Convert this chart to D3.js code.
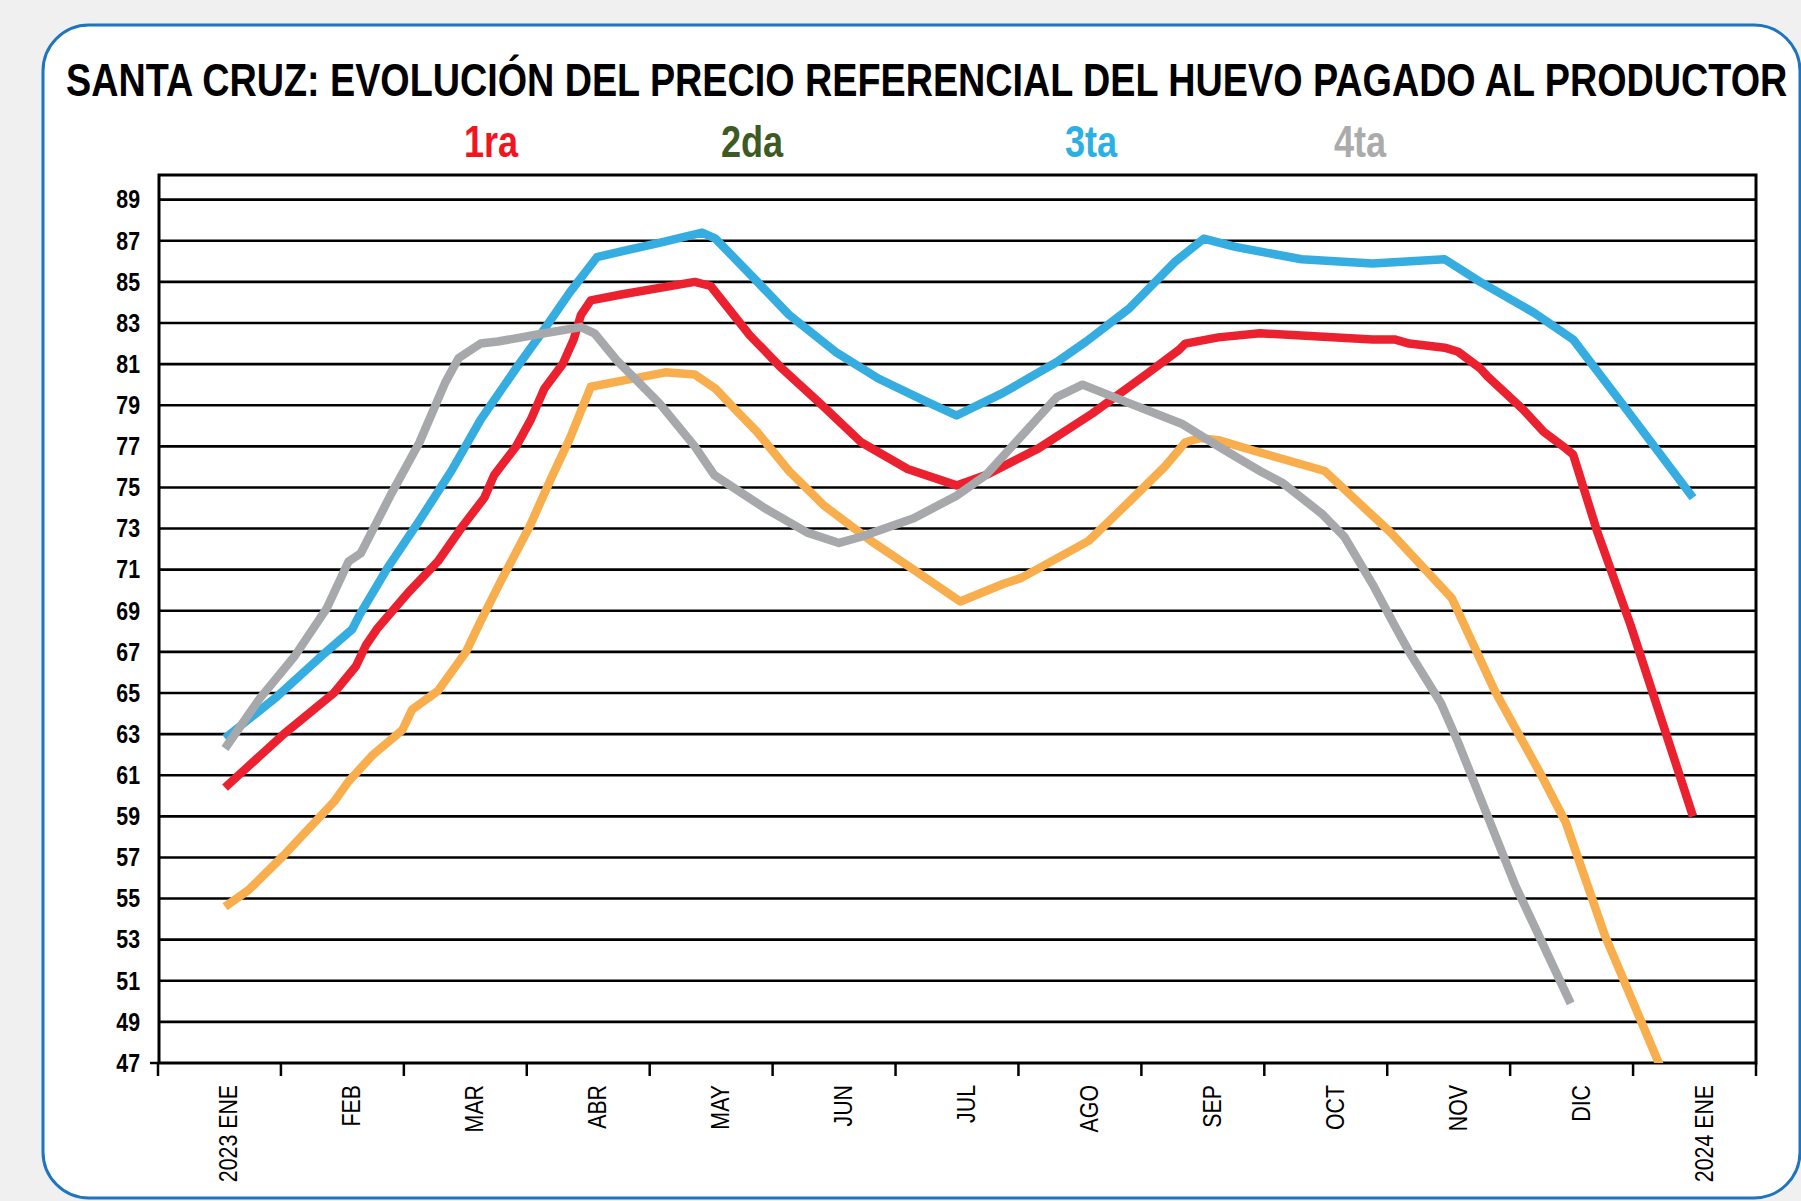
<!DOCTYPE html>
<html>
<head>
<meta charset="utf-8">
<script src="https://cdnjs.cloudflare.com/ajax/libs/d3/7.8.5/d3.min.js"></script>
<style>
  body { margin: 0; background: #f0f0f0; }
  svg { display: block; }
</style>
</head>
<body>
<svg></svg>
<script>
// meses del eje X
const meses = ["2023 ENE", "FEB", "MAR", "ABR", "MAY", "JUN", "JUL", "AGO", "SEP", "OCT", "NOV", "DIC", "2024 ENE"];
const yTicks = d3.range(47, 90, 2);

// series: [posicion en meses desde ene-2023, precio]
const primera = [[0,60.4],[0.48,63.0],[0.89,65.0],[1.07,66.3],[1.15,67.3],[1.24,68.1],[1.5,69.9],[1.74,71.4],[1.94,73.1],[2.12,74.5],[2.2,75.6],[2.38,77.0],[2.5,78.3],[2.61,79.8],[2.76,81.0],[2.85,82.2],[2.91,83.4],[2.99,84.1],[3.25,84.4],[3.84,85.0],[3.97,84.8],[4.29,82.4],[4.55,80.8],[4.88,79.0],[5.2,77.2],[5.58,75.9],[5.98,75.1],[6.22,75.6],[6.65,76.9],[7.09,78.6],[7.53,80.5],[7.8,81.7],[7.85,82.0],[8.12,82.3],[8.46,82.5],[9.38,82.2],[9.56,82.2],[9.68,82.0],[9.97,81.8],[10.08,81.6],[10.26,80.8],[10.32,80.4],[10.61,78.8],[10.78,77.7],[10.96,76.9],[11.02,76.6],[11.22,72.8],[11.49,68.3],[12,59.0]];
const segunda = [[0,54.6],[0.19,55.4],[0.48,57.1],[0.89,59.7],[1.01,60.7],[1.21,62.0],[1.45,63.2],[1.53,64.2],[1.74,65.1],[1.97,67.0],[2.09,68.5],[2.26,70.5],[2.49,73.1],[2.67,75.5],[2.82,77.4],[2.99,79.9],[3.25,80.2],[3.6,80.6],[3.84,80.5],[4.01,79.8],[4.17,78.8],[4.35,77.7],[4.61,75.8],[4.9,74.1],[5.28,72.4],[5.63,71.0],[6.01,69.45],[6.36,70.3],[6.51,70.6],[7.06,72.4],[7.39,74.3],[7.68,76.0],[7.85,77.2],[7.97,77.4],[8.12,77.3],[8.46,76.7],[8.99,75.8],[9.53,72.8],[10.03,69.6],[10.38,65.1],[10.76,61.0],[10.96,58.7],[11.28,53.2],[11.72,47.0],[12,43.2]];
const tercera = [[0,62.8],[0.42,64.8],[0.77,66.7],[1.04,68.1],[1.1,68.8],[1.33,71.1],[1.59,73.4],[1.85,75.8],[2.09,78.3],[2.38,80.8],[2.61,82.7],[2.82,84.5],[3.04,86.2],[3.25,86.5],[3.55,86.9],[3.9,87.4],[4.01,87.1],[4.32,85.2],[4.61,83.4],[4.99,81.6],[5.34,80.3],[5.69,79.3],[5.98,78.5],[6.36,79.6],[6.8,81.1],[7.04,82.1],[7.39,83.7],[7.77,86.0],[8.0,87.1],[8.26,86.7],[8.8,86.1],[9.38,85.9],[9.97,86.1],[10.26,85.0],[10.7,83.5],[11.02,82.2],[11.43,79.0],[12,74.5]];
const cuarta = [[0,62.3],[0.28,64.7],[0.57,66.8],[0.83,69.1],[1.01,71.4],[1.11,71.8],[1.36,74.7],[1.59,77.2],[1.8,80.1],[1.91,81.3],[2.09,82.0],[2.23,82.1],[2.61,82.5],[2.91,82.8],[3.02,82.5],[3.2,81.2],[3.55,79.1],[3.84,77.0],[4.0,75.6],[4.41,74.0],[4.76,72.8],[5.02,72.3],[5.2,72.6],[5.63,73.5],[5.98,74.6],[6.22,75.6],[6.51,77.5],[6.8,79.4],[7.01,80.0],[7.39,79.1],[7.82,78.1],[8.12,77.0],[8.46,75.8],[8.65,75.2],[8.97,73.7],[9.15,72.6],[9.38,70.3],[9.56,68.3],[9.68,67.0],[9.94,64.5],[10.08,62.6],[10.55,55.6],[11.0,49.9]];

const series = [
  {name: "1ra", data: primera, color: "#ec2130", legend: "#f2141f", lx: 491},
  {name: "2da", data: segunda, color: "#f9ae4d", legend: "#3d5a25", lx: 752},
  {name: "3ta", data: tercera, color: "#36ade0", legend: "#2bb0e6", lx: 1091},
  {name: "4ta", data: cuarta, color: "#a7a8ab", legend: "#ababab", lx: 1360}
];

const width = 1801;
const height = 1201;
const plotLeft = 159, plotRight = 1756, plotTop = 175, plotBottom = 1063;
const fontFam = "'Liberation Sans', Arial, sans-serif";
const narrow = 0.82; // imitamos Arial Narrow comprimiendo el texto

let svg = d3.select("svg")
  .attr("width", width)
  .attr("height", height);

// comprime horizontalmente cada texto de la seleccion
function estrechar(sel) {
  sel.each(function () {
    let w = this.getComputedTextLength();
    d3.select(this)
      .attr("textLength", w * narrow)
      .attr("lengthAdjust", "spacingAndGlyphs");
  });
}

function drawFrame() {
  svg.append("rect")
    .attr("width", width).attr("height", height)
    .attr("fill", "#f0f0f0");
  svg.append("rect")
    .attr("x", 43).attr("y", 25)
    .attr("width", 1757).attr("height", 1173)
    .attr("rx", 46).attr("ry", 46)
    .attr("fill", "#ffffff")
    .attr("stroke", "#1f74c0")
    .attr("stroke-width", 3);

  svg.append("text")
    .attr("x", 66).attr("y", 96)
    .style("font-family", fontFam)
    .style("font-weight", "bold")
    .style("font-size", "46px")
    .attr("fill", "#000")
    .text("SANTA CRUZ: EVOLUCIÓN DEL PRECIO REFERENCIAL DEL HUEVO PAGADO AL PRODUCTOR")
    .call(estrechar);

  // leyenda: solo texto de color
  svg.selectAll(".leyenda")
    .data(series)
    .enter()
    .append("text")
    .attr("class", "leyenda")
    .attr("x", d => d.lx)
    .attr("y", 157)
    .attr("text-anchor", "middle")
    .style("font-family", fontFam)
    .style("font-weight", "bold")
    .style("font-size", "44px")
    .attr("fill", d => d.legend)
    .text(d => d.name)
    .call(estrechar);
}

function createAxis() {
  let scaleX = d3.scaleBand()
    .domain(meses)
    .range([158, plotRight]);

  let scaleY = d3.scaleLinear()
    .domain([47, 90.2])
    .range([plotBottom, plotTop]);

  // lineas de cuadricula
  svg.append("g")
    .selectAll("line")
    .data(yTicks.filter(v => v > 47))
    .enter()
    .append("line")
    .attr("x1", plotLeft).attr("x2", plotRight)
    .attr("y1", d => scaleY(d)).attr("y2", d => scaleY(d))
    .attr("stroke", "#000")
    .attr("stroke-width", 2.6);

  // eje Y
  let axisY = d3.axisLeft(scaleY)
    .tickValues(yTicks)
    .tickSize(0)
    .tickPadding(19);
  let gy = svg.append("g")
    .attr("transform", `translate(${plotLeft}, 0)`)
    .call(axisY);
  gy.select(".domain").remove();
  gy.selectAll("text")
    .style("font-family", fontFam)
    .style("font-weight", "bold")
    .style("font-size", "26px")
    .attr("fill", "#000")
    .call(estrechar);

  // marcas del eje X entre categorias
  let bordes = d3.range(meses.length + 1).map(i => 158 + i * scaleX.step());
  svg.append("g")
    .selectAll("line")
    .data(bordes)
    .enter()
    .append("line")
    .attr("x1", d => d).attr("x2", d => d)
    .attr("y1", plotBottom).attr("y2", plotBottom + 13)
    .attr("stroke", "#000")
    .attr("stroke-width", 2.5);
  svg.append("line")
    .attr("x1", 150).attr("x2", plotLeft)
    .attr("y1", plotBottom).attr("y2", plotBottom)
    .attr("stroke", "#000").attr("stroke-width", 2.5);

  // etiquetas verticales
  svg.append("g")
    .selectAll("text")
    .data(meses)
    .enter()
    .append("text")
    .attr("text-anchor", "end")
    .attr("transform", d => `translate(${scaleX(d) + scaleX.bandwidth() / 2 + 18}, 1085) rotate(-90)`)
    .style("font-family", fontFam)
    .style("font-size", "26px")
    .attr("fill", "#000")
    .text(d => d)
    .call(estrechar);

  // marco del area de trazado
  svg.append("rect")
    .attr("x", plotLeft).attr("y", plotTop)
    .attr("width", plotRight - plotLeft)
    .attr("height", plotBottom - plotTop)
    .attr("fill", "none")
    .attr("stroke", "#000")
    .attr("stroke-width", 3);

  return [scaleX, scaleY];
}

function createChart(data, scaleT, scaleY, color) {
  const line = d3.line()
    .x(d => scaleT(d[0]))
    .y(d => scaleY(d[1]))
    .curve(d3.curveLinear);

  svg.append("path")
    .datum(data)
    .attr("fill", "none")
    .attr("stroke", color)
    .attr("stroke-width", 8.5)
    .attr("stroke-linejoin", "round")
    .attr("clip-path", "url(#recorte)")
    .attr("d", line);
}

drawFrame();

svg.append("clipPath")
  .attr("id", "recorte")
  .append("rect")
  .attr("x", plotLeft).attr("y", plotTop)
  .attr("width", plotRight - plotLeft)
  .attr("height", plotBottom - plotTop);

const [scX, scY] = createAxis();

// posicion de los puntos semanales dentro de cada mes
let scT = d3.scaleLinear()
  .domain([0, meses.length - 1])
  .range([225, 1693]);

for (let s of series) {
  createChart(s.data, scT, scY, s.color);
}
</script>
</body>
</html>
